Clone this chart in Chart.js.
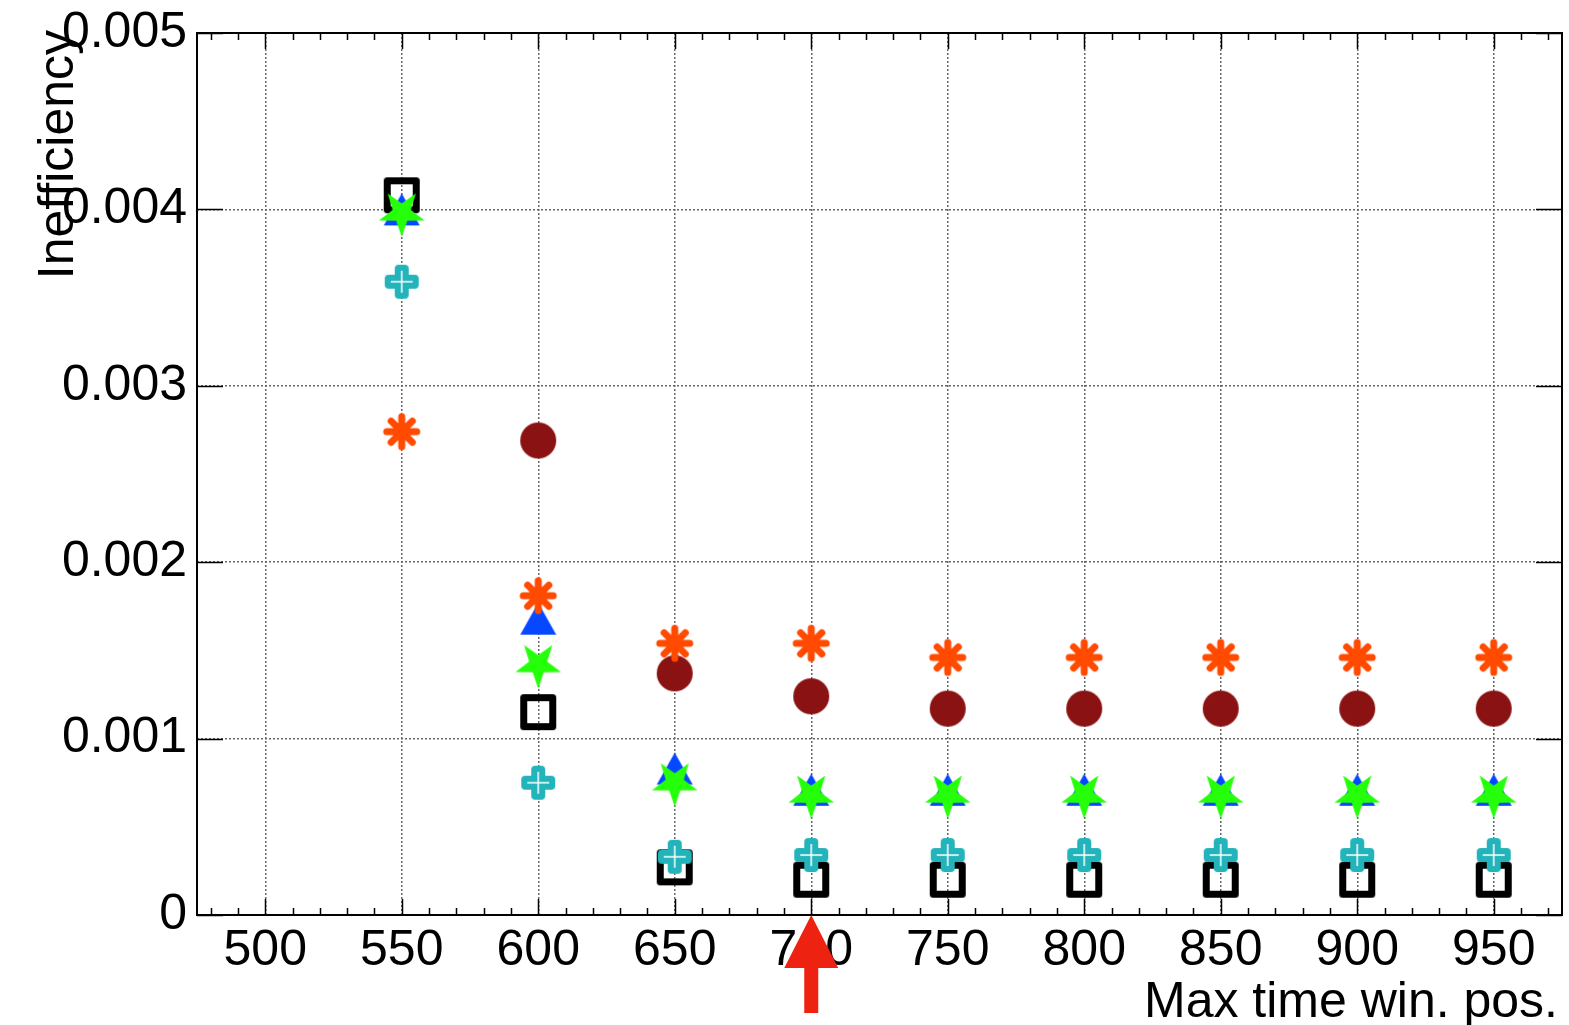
<!DOCTYPE html>
<html>
<head>
<meta charset="utf-8">
<script src="https://cdn.jsdelivr.net/npm/chart.js@4.4.1/dist/chart.umd.min.js"></script>
<style>
    html, body { margin: 0; padding: 0; background: #ffffff; }
    canvas { display: block; }
</style>
</head>
<body>
<canvas id="chartIneficiencia" width="1569" height="1025"></canvas>
<script>
// ===== datos =====
const posiciones = [550, 600, 650, 700, 750, 800, 850, 900, 950];
const valoresCuadrado  = [0.00408, 0.00115, 0.00027, 0.00020, 0.00020, 0.00020, 0.00020, 0.00020, 0.00020];
const valoresEstrella  = [0.00398, 0.00142, 0.00075, 0.00068, 0.00068, 0.00068, 0.00068, 0.00068, 0.00068];
const valoresTriangulo = [0.00400, 0.00168, 0.00083, 0.00071, 0.00071, 0.00071, 0.00071, 0.00071, 0.00071];
const valoresCruz      = [0.00359, 0.00075, 0.00033, 0.00034, 0.00034, 0.00034, 0.00034, 0.00034, 0.00034];
const valoresAsterisco = [0.00274, 0.00181, 0.00154, 0.00154, 0.00146, 0.00146, 0.00146, 0.00146, 0.00146];
const valoresCirculo   = [null, 0.00269, 0.00137, 0.00124, 0.00117, 0.00117, 0.00117, 0.00117, 0.00117];

const ticksX = [500, 550, 600, 650, 700, 750, 800, 850, 900, 950];
const ticksY = [0, 0.001, 0.002, 0.003, 0.004, 0.005];
const posicionFlecha = 700;

const FUENTE = '"Liberation Sans", Arial, Helvetica, sans-serif';

// Crear marcador como canvas
function crearMarcador(tam, dibujar) {
    const c = document.createElement('canvas');
    c.width = tam;
    c.height = tam;
    const g = c.getContext('2d');
    dibujar(g, tam / 2);
    return c;
}

const marcadorCuadrado = crearMarcador(40, function(g, m) {
    g.strokeStyle = '#000000';
    g.lineWidth = 7;
    g.lineJoin = 'round';
    g.strokeRect(m - 14.5, m - 14.5, 29, 29);
});

const marcadorCirculo = crearMarcador(40, function(g, m) {
    g.fillStyle = '#8a1212';
    g.beginPath();
    g.arc(m, m, 18, 0, Math.PI * 2);
    g.fill();
});

const marcadorTriangulo = crearMarcador(40, function(g, m) {
    g.fillStyle = '#0648ff';
    g.beginPath();
    g.moveTo(m, m - 16);
    g.lineTo(m + 18, m + 16);
    g.lineTo(m - 18, m + 16);
    g.closePath();
    g.fill();
});

const marcadorEstrella = crearMarcador(52, function(g, m) {
    g.fillStyle = '#26ff0a';
    g.beginPath();
    for (let i = 0; i < 10; i++) {
        const r = (i % 2 === 0) ? 24 : 9.5;
        const a = Math.PI / 2 + i * Math.PI / 5;
        const px = m + r * Math.cos(a);
        const py = m + r * Math.sin(a);
        if (i === 0) g.moveTo(px, py); else g.lineTo(px, py);
    }
    g.closePath();
    g.fill();
});

const marcadorCruz = crearMarcador(40, function(g, m) {
    g.fillStyle = '#22b4ba';
    const a = 7, l = 17;
    g.beginPath();
    g.roundRect(m - a, m - l, 2 * a, 2 * l, 4);
    g.roundRect(m - l, m - a, 2 * l, 2 * a, 4);
    g.fill();
    g.strokeStyle = '#ffffff';
    g.lineWidth = 1.5;
    g.beginPath();
    g.moveTo(m - 11, m); g.lineTo(m + 11, m);
    g.moveTo(m, m - 11); g.lineTo(m, m + 11);
    g.stroke();
});

const marcadorAsterisco = crearMarcador(40, function(g, m) {
    g.strokeStyle = '#ff4a00';
    g.lineWidth = 7;
    g.lineCap = 'round';
    g.beginPath();
    for (let i = 0; i < 4; i++) {
        const a = i * Math.PI / 4;
        g.moveTo(m - 15 * Math.cos(a), m - 15 * Math.sin(a));
        g.lineTo(m + 15 * Math.cos(a), m + 15 * Math.sin(a));
    }
    g.stroke();
});

function puntos(valores) {
    return posiciones
        .map((x, i) => ({ x: x, y: valores[i] }))
        .filter(p => p.y !== null);
}

function serie(valores, marcador, orden) {
    return {
        data: puntos(valores),
        pointStyle: marcador,
        pointRadius: 18,
        showLine: false,
        order: orden
    };
}

// Quitar el relleno automatico de las escalas
function sinRelleno(scale) {
    scale.paddingTop = 0;
    scale.paddingBottom = 0;
    scale.paddingLeft = 0;
    scale.paddingRight = 0;
}

// Ejes, ticks menores, marco, titulos y flecha
const pluginMarco = {
    id: 'marco',
    afterDatasetsDraw(chart) {
        const ctx = chart.ctx;
        const area = chart.chartArea;
        const sx = chart.scales.x;
        const sy = chart.scales.y;
        ctx.save();
        ctx.strokeStyle = '#000000';
        ctx.lineWidth = 2;
        ctx.strokeRect(area.left, area.top, area.right - area.left, area.bottom - area.top);

        ctx.lineWidth = 1.5;
        ctx.beginPath();
        for (let v = 480; v <= 970; v += 10) {
            const px = Math.round(sx.getPixelForValue(v)) + 0.5;
            const largo = ticksX.includes(v) ? 16 : 7;
            ctx.moveTo(px, area.bottom);
            ctx.lineTo(px, area.bottom - largo);
            ctx.moveTo(px, area.top);
            ctx.lineTo(px, area.top + largo);
        }
        ticksY.forEach(function(v) {
            const py = Math.round(sy.getPixelForValue(v)) + 0.5;
            ctx.moveTo(area.left, py);
            ctx.lineTo(area.left + 26, py);
            ctx.moveTo(area.right, py);
            ctx.lineTo(area.right - 26, py);
        });
        ctx.stroke();
        ctx.restore();
    },
    afterDraw(chart) {
        const ctx = chart.ctx;
        const area = chart.chartArea;
        const sx = chart.scales.x;
        ctx.save();
        ctx.fillStyle = '#000000';
        ctx.font = '50px ' + FUENTE;
        ctx.textAlign = 'right';
        ctx.textBaseline = 'alphabetic';
        ctx.fillText('Max time win. pos.', 1558, 1017);

        ctx.translate(73, 30);
        ctx.rotate(-Math.PI / 2);
        ctx.fillText('Inefficiency', 0, 0);
        ctx.restore();

        // Flecha roja
        const fx = sx.getPixelForValue(posicionFlecha);
        ctx.save();
        ctx.fillStyle = '#ee2211';
        ctx.beginPath();
        ctx.moveTo(fx, area.bottom);
        ctx.lineTo(fx + 27, area.bottom + 53);
        ctx.lineTo(fx + 7, area.bottom + 53);
        ctx.lineTo(fx + 7, area.bottom + 98);
        ctx.lineTo(fx - 7, area.bottom + 98);
        ctx.lineTo(fx - 7, area.bottom + 53);
        ctx.lineTo(fx - 27, area.bottom + 53);
        ctx.closePath();
        ctx.fill();
        ctx.restore();
    }
};

document.addEventListener('DOMContentLoaded', function() {
    const ctx = document.getElementById('chartIneficiencia');
    new Chart(ctx, {
        type: 'scatter',
        data: {
            datasets: [
                serie(valoresCuadrado, marcadorCuadrado, 6),
                serie(valoresCirculo, marcadorCirculo, 5),
                serie(valoresTriangulo, marcadorTriangulo, 4),
                serie(valoresEstrella, marcadorEstrella, 3),
                serie(valoresCruz, marcadorCruz, 2),
                serie(valoresAsterisco, marcadorAsterisco, 1)
            ]
        },
        options: {
            responsive: false,
            animation: false,
            layout: {
                autoPadding: false,
                padding: { top: 33, right: 7, left: 0, bottom: 0 }
            },
            plugins: {
                legend: { display: false },
                tooltip: { enabled: false }
            },
            scales: {
                x: {
                    type: 'linear',
                    min: 475,
                    max: 975,
                    afterBuildTicks: function(scale) {
                        scale.ticks = ticksX.map(v => ({ value: v }));
                    },
                    afterFit: function(scale) {
                        scale.height = 110;
                        sinRelleno(scale);
                    },
                    ticks: {
                        color: '#000000',
                        font: { family: FUENTE, size: 50 },
                        padding: 6,
                        maxRotation: 0,
                        autoSkip: false
                    },
                    grid: { color: '#666666', lineWidth: 1.5, drawTicks: false },
                    border: { display: false, dash: [2, 2] }
                },
                y: {
                    type: 'linear',
                    min: 0,
                    max: 0.005,
                    afterBuildTicks: function(scale) {
                        scale.ticks = ticksY.map(v => ({ value: v }));
                    },
                    afterFit: function(scale) {
                        scale.width = 197;
                        sinRelleno(scale);
                    },
                    ticks: {
                        color: '#000000',
                        font: { family: FUENTE, size: 50 },
                        padding: 10,
                        callback: function(v) { return v === 0 ? '0' : v.toFixed(3); }
                    },
                    grid: { color: '#666666', lineWidth: 1.5, drawTicks: false },
                    border: { display: false, dash: [2, 2] }
                }
            }
        },
        plugins: [pluginMarco]
    });
});
</script>
</body>
</html>
